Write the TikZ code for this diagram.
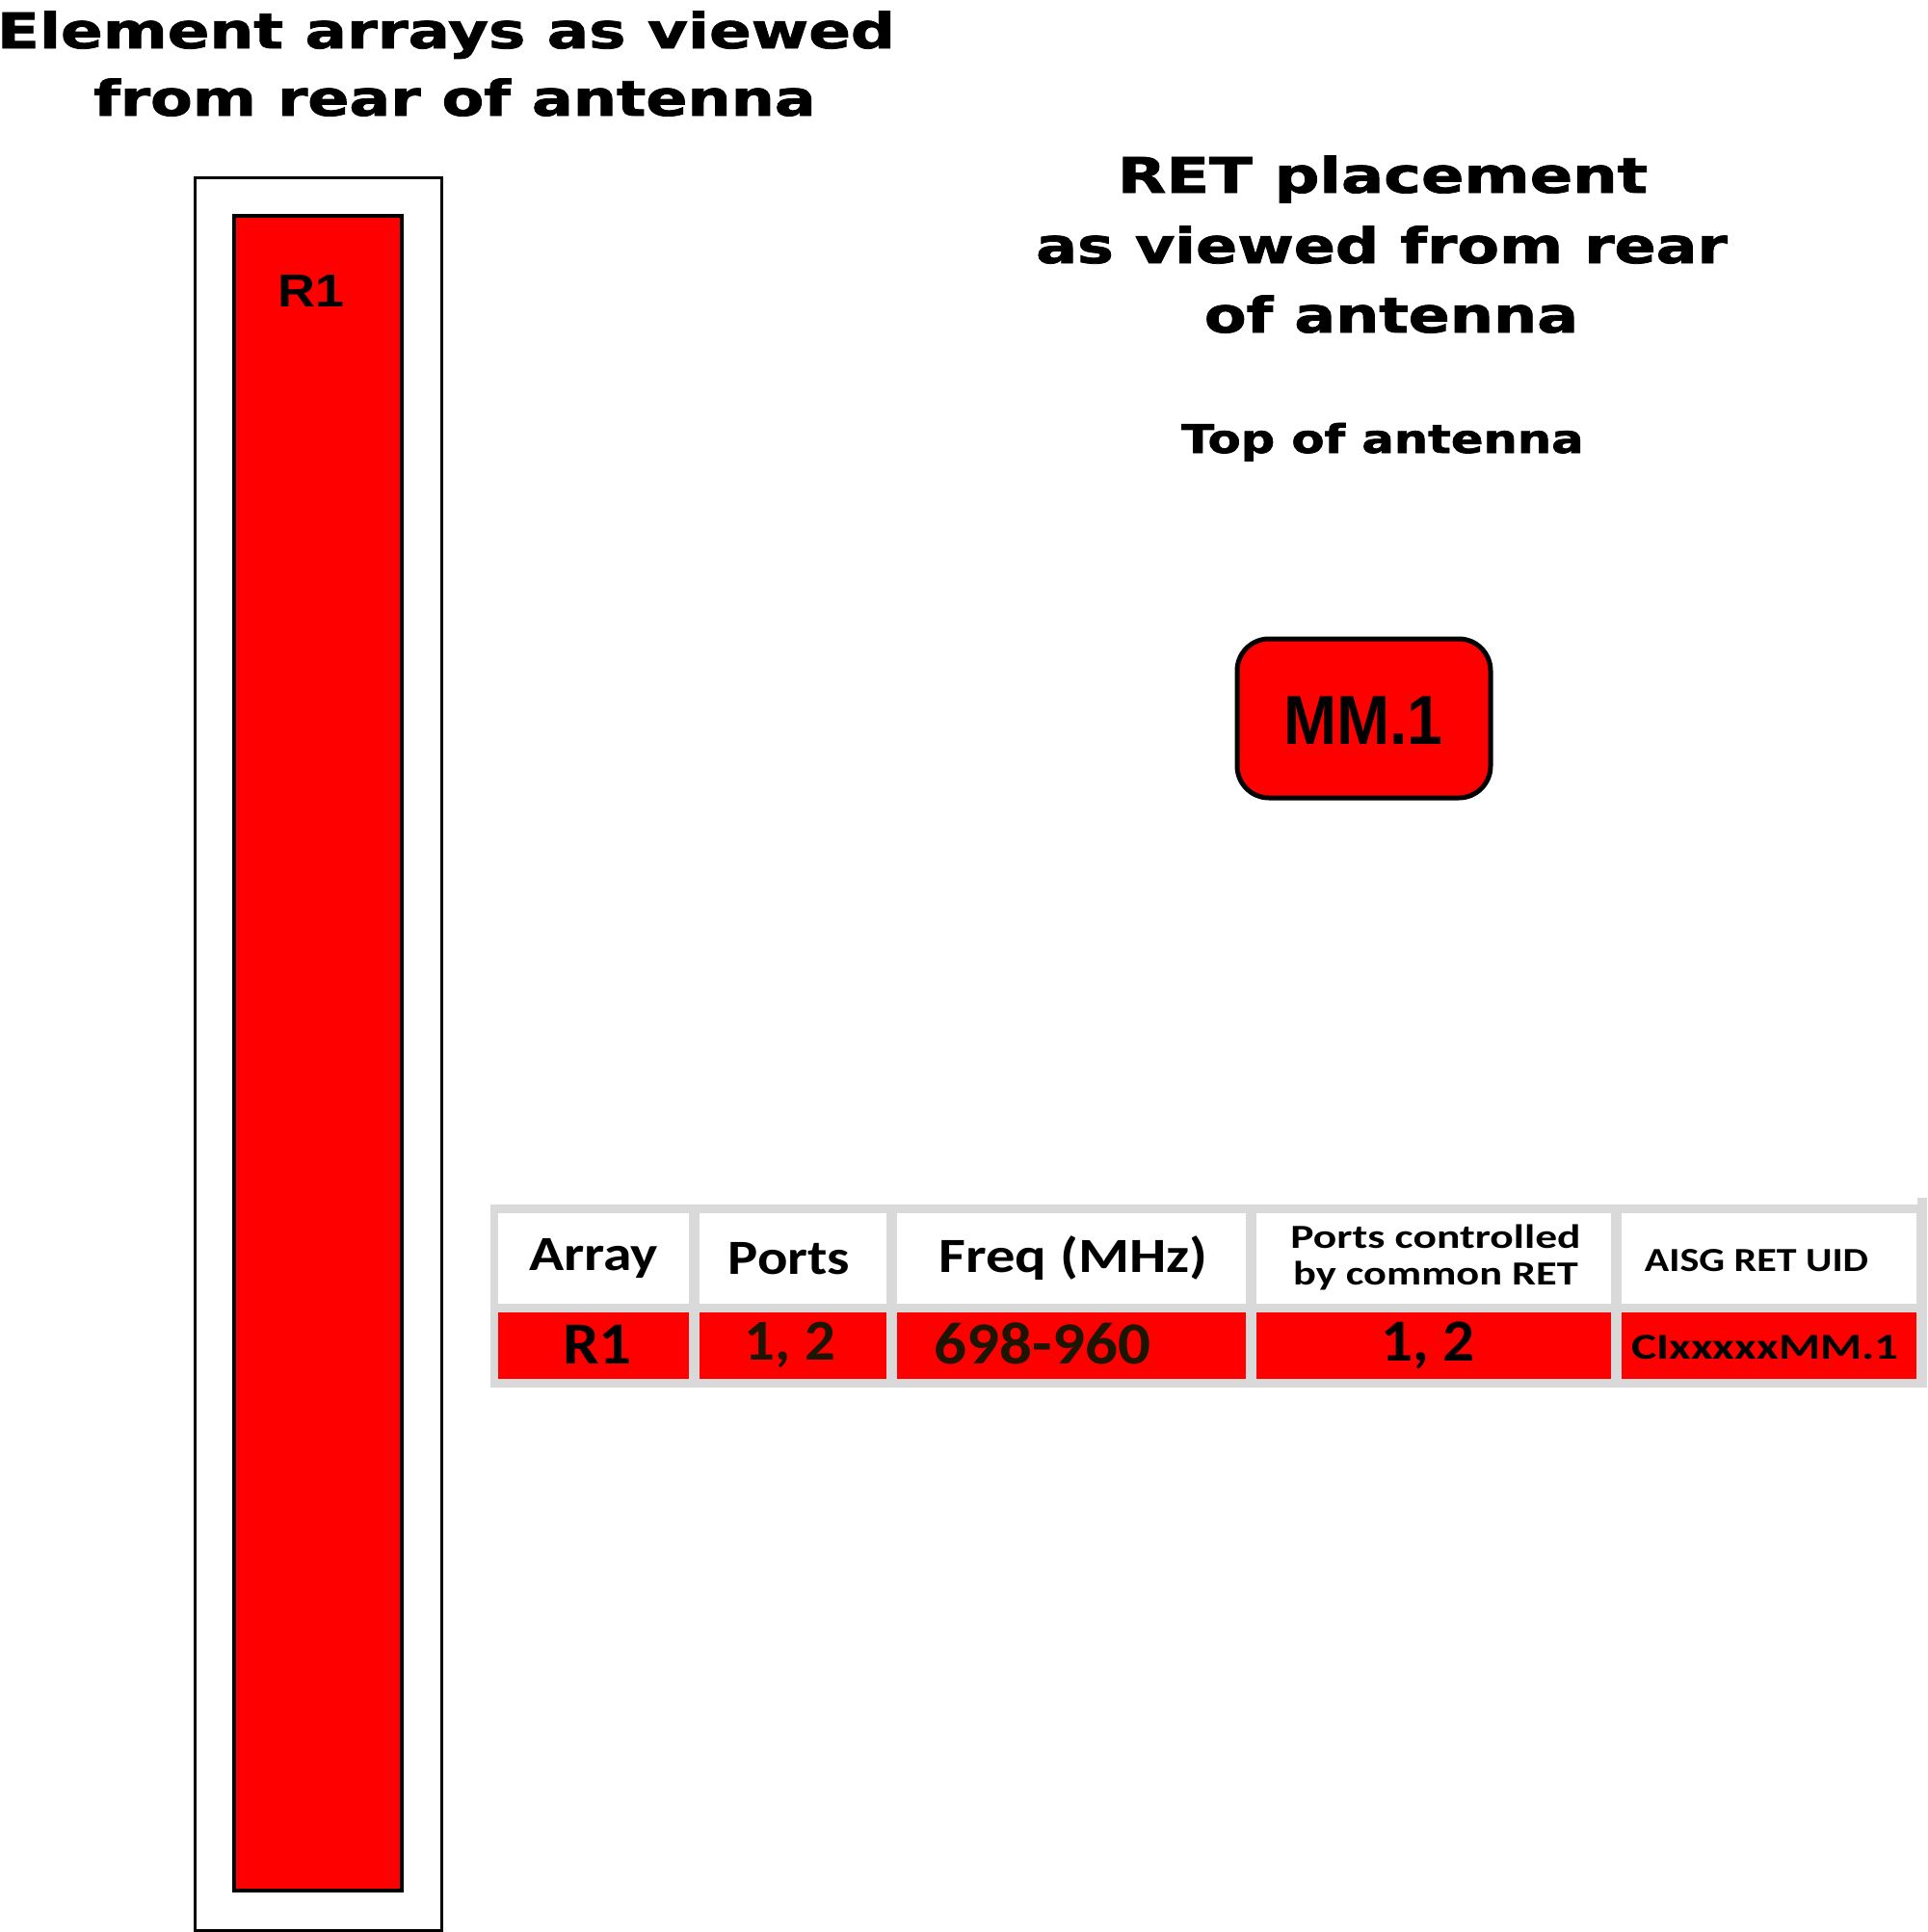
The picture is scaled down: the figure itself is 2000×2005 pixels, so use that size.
\documentclass[tikz,border=0pt]{standalone}
\usepackage{fontspec}
\newfontfamily\titlefont{DejaVu Sans}[BoldFeatures={FakeBold=1.5}]
\newfontfamily\calfont{Carlito}
\newfontfamily\arialfont{Liberation Sans}
\definecolor{antred}{HTML}{FF0000}
\definecolor{tabgray}{HTML}{D9D9D9}
\definecolor{darktxt}{HTML}{1C1600}
\newcommand{\sx}[2]{\scalebox{#1}[1]{#2}}
\begin{document}
\begin{tikzpicture}[x=1pt,y=-1pt,
  txt/.style={inner sep=0pt, outer sep=0pt, anchor=base},
  ttl/.style={txt, font=\titlefont\bfseries\fontsize{50.8}{60}\selectfont},
  hdr/.style={txt, font=\calfont\bfseries\fontsize{51}{60}\selectfont},
  hdrs/.style={txt, font=\calfont\bfseries\fontsize{35}{40}\selectfont},
  dat/.style={txt, font=\calfont\bfseries\fontsize{62}{70}\selectfont},
  cell/.style={inner sep=0pt, outer sep=0pt, anchor=north west, draw=none},
  box/.style={inner sep=0pt, outer sep=0pt, anchor=north west}
]
\useasboundingbox (0,0) rectangle (2000,2005);
\fill[white] (0,0) rectangle (2000,2005);

% titles
\node[ttl] (t1a) at (463,50) {\sx{1.268}{Element arrays as viewed}};
\node[ttl] (t1b) at (472,120) {\sx{1.25}{from rear of antenna}};
\node[ttl] (t2a) at (1435,200) {\sx{1.29}{RET placement}};
\node[ttl] (t2b) at (1434,273) {\sx{1.25}{as viewed from rear}};
\node[ttl] (t2c) at (1444,345) {\sx{1.25}{of antenna}};
\node[txt, font=\titlefont\bfseries\fontsize{41}{48}\selectfont] (top) at (1435,470) {\sx{1.21}{Top of antenna}};

% antenna
\node[box, draw=black, line width=3pt, minimum width=256pt, minimum height=1819pt] (outer) at (202,184) {};
\node[box, draw=black, fill=antred, line width=4pt, minimum width=174pt, minimum height=1738pt] (inner) at (243,224) {};
\node[txt, font=\arialfont\bfseries\fontsize{48}{52}\selectfont] (r1) at (323,318) {\sx{1.12}{R1}};

% RET box
\node[box, draw=black, fill=antred, line width=5pt, rounded corners=33pt, minimum width=263pt, minimum height=165pt] (ret) at (1284,663) {};
\node[txt, font=\arialfont\bfseries\fontsize{72}{80}\selectfont] (mm) at (1415,772) {\sx{0.92}{MM.1}};

% table
\fill[tabgray] (509,1250) rectangle (2000,1440);
\fill[tabgray] (1990,1243) rectangle (2000,1250);
\node[cell, fill=white, minimum width=198pt, minimum height=94pt] (h1) at (517,1259) {};
\node[cell, fill=white, minimum width=194pt, minimum height=94pt] (h2) at (726,1259) {};
\node[cell, fill=white, minimum width=362pt, minimum height=94pt] (h3) at (931,1259) {};
\node[cell, fill=white, minimum width=368pt, minimum height=94pt] (h4) at (1304,1259) {};
\node[cell, fill=white, minimum width=306pt, minimum height=94pt] (h5) at (1683,1259) {};
\node[cell, fill=antred, minimum width=198pt, minimum height=69pt] (d1) at (517,1362) {};
\node[cell, fill=antred, minimum width=194pt, minimum height=69pt] (d2) at (726,1362) {};
\node[cell, fill=antred, minimum width=362pt, minimum height=69pt] (d3) at (931,1362) {};
\node[cell, fill=antred, minimum width=368pt, minimum height=69pt] (d4) at (1304,1362) {};
\node[cell, fill=antred, minimum width=306pt, minimum height=69pt] (d5) at (1683,1362) {};

\node[hdr] (th1) at (616,1318) {\sx{1.17}{Array}};
\node[hdr] (th2) at (819,1322) {\sx{1.15}{Ports}};
\node[hdr] (th3) at (1114,1320) {\sx{1.19}{Freq (MHz)}};
\node[hdrs] (th4a) at (1490,1295) {\sx{1.3}{Ports controlled}};
\node[hdrs] (th4b) at (1490,1333) {\sx{1.27}{by common RET}};
\node[hdrs] (th5) at (1823,1319) {\sx{1.2}{AISG RET UID}};

\node[dat] (td1) at (620,1415) {\sx{1.08}{R1}};
\node[dat, text=darktxt, font=\calfont\bfseries\fontsize{60}{70}\selectfont] (td2) at (820,1411) {\sx{1.05}{1, 2}};
\node[dat, text=darktxt] (td3) at (1082,1415) {\sx{1.08}{698-960}};
\node[dat] (td4) at (1482,1412) {\sx{1.05}{1, 2}};
\node[txt, font=\calfont\bfseries\fontsize{38}{44}\selectfont] (td5) at (1832,1410) {\sx{1.3}{CIxxxxxMM.1}};
\end{tikzpicture}
\end{document}
